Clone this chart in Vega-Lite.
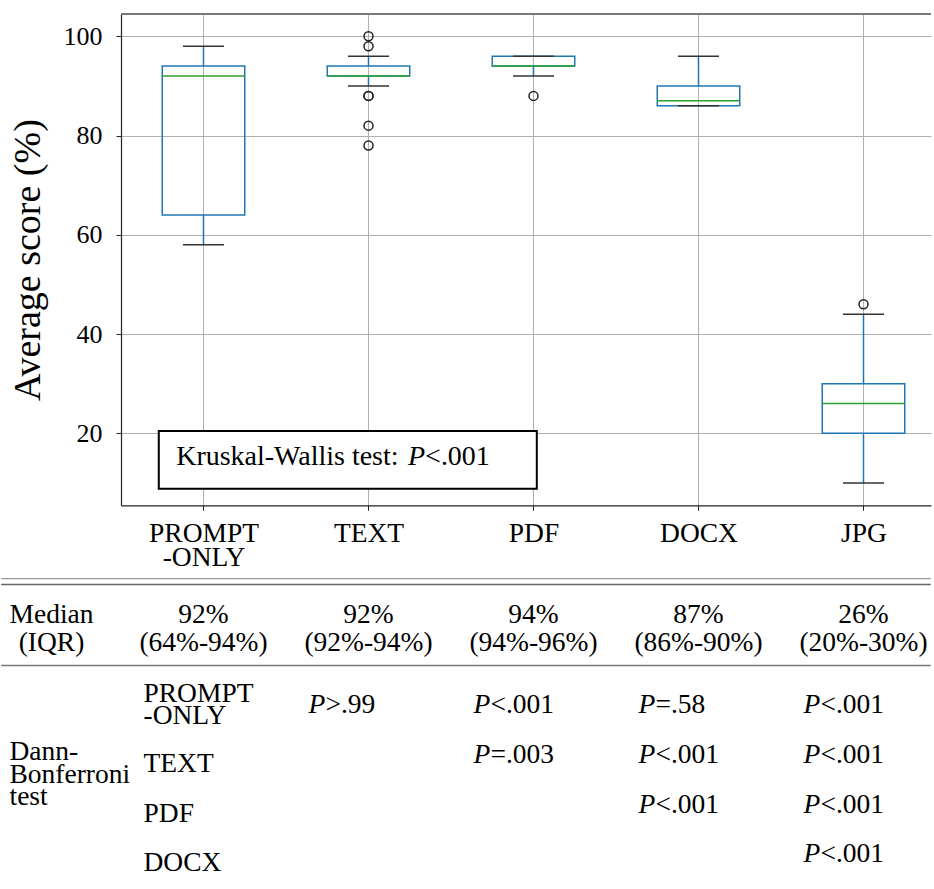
{
  "$schema": "https://vega.github.io/schema/vega-lite/v6.json",
  "width": 810,
  "height": 491.3,
  "padding": {"left": 0, "top": 13, "right": 0, "bottom": 0},
  "config": {
    "font": "Liberation Serif",
    "view": {"stroke": null},
    "axis": {
      "labelColor": "black",
      "titleColor": "black",
      "labelFont": "Liberation Serif",
      "titleFont": "Liberation Serif",
      "titleFontWeight": "normal",
      "gridColor": "#b0b0b0",
      "gridWidth": 1,
      "gridOpacity": 1,
      "domainColor": "#222222",
      "tickColor": "#222222",
      "tickSize": 5,
      "domainWidth": 1.2,
      "labelFlush": false,
      "labelOverlap": false
    }
  },
  "datasets": {
    "boxes": [
      {"pos": 1, "name": "PROMPT-ONLY", "lo": 58, "q1": 64, "med": 92, "q3": 94, "hi": 98},
      {"pos": 2, "name": "TEXT", "lo": 90, "q1": 92, "med": 92, "q3": 94, "hi": 96},
      {"pos": 3, "name": "PDF", "lo": 92, "q1": 94, "med": 94, "q3": 96, "hi": 96},
      {"pos": 4, "name": "DOCX", "lo": 86, "q1": 86, "med": 87, "q3": 90, "hi": 96},
      {"pos": 5, "name": "JPG", "lo": 10, "q1": 20, "med": 26, "q3": 30, "hi": 44}
    ],
    "outliers": [
      {"pos": 2, "v": 100}, {"pos": 2, "v": 98}, {"pos": 2, "v": 88}, {"pos": 2, "v": 88},
      {"pos": 2, "v": 82}, {"pos": 2, "v": 78}, {"pos": 3, "v": 88}, {"pos": 5, "v": 46}
    ],
    "header": [
      {"pos": 1, "row": 0, "text": "92%\n(64%-94%)"},
      {"pos": 2, "row": 0, "text": "92%\n(92%-94%)"},
      {"pos": 3, "row": 0, "text": "94%\n(94%-96%)"},
      {"pos": 4, "row": 0, "text": "87%\n(86%-90%)"},
      {"pos": 5, "row": 0, "text": "26%\n(20%-30%)"}
    ],
    "rowhead": [{"pos": 0, "row": 0, "text": "Median\n(IQR)"}],
    "testname": [{"pos": 0, "row": 2, "text": "Dann-\nBonferroni\ntest"}],
    "rowlabels": [
      {"pos": 1, "row": 1, "text": "PROMPT\n-ONLY"},
      {"pos": 1, "row": 2, "text": "TEXT"},
      {"pos": 1, "row": 3, "text": "PDF"},
      {"pos": 1, "row": 4, "text": "DOCX"}
    ],
    "pvalues": [
      {"pos": 2, "row": 1, "rest": ">.99"},
      {"pos": 3, "row": 1, "rest": "<.001"},
      {"pos": 4, "row": 1, "rest": "=.58"},
      {"pos": 5, "row": 1, "rest": "<.001"},
      {"pos": 3, "row": 2, "rest": "=.003"},
      {"pos": 4, "row": 2, "rest": "<.001"},
      {"pos": 5, "row": 2, "rest": "<.001"},
      {"pos": 4, "row": 3, "rest": "<.001"},
      {"pos": 5, "row": 3, "rest": "<.001"},
      {"pos": 5, "row": 4, "rest": "<.001"}
    ]
  },
  "resolve": {"scale": {"y": "independent"}},
  "layer": [
    {
      "layer": [
        {
          "data": {"name": "boxes"},
          "mark": {"type": "rule", "color": "#1f77b4", "strokeWidth": 1.5},
          "encoding": {
            "x": {
              "field": "pos", "type": "quantitative", "title": null,
              "scale": {"domain": [0.5, 5.4091], "nice": false, "zero": false, "padding": 0},
              "axis": {
                "values": [1, 2, 3, 4, 5],
                "labelExpr": "datum.value == 1 ? ['PROMPT', '-ONLY'] : datum.value == 2 ? 'TEXT' : datum.value == 3 ? 'PDF' : datum.value == 4 ? 'DOCX' : 'JPG'",
                "labelFontSize": 27.5,
                "labelPadding": 9,
                "labelLineHeight": 24,
                "labelBaseline": "top",
                "labelAngle": 0,
                "grid": true
              }
            },
            "y": {
              "field": "lo", "type": "quantitative", "title": "Average score (%)",
              "scale": {"domain": [5.5, 104.5], "nice": false, "zero": false, "padding": 0},
              "axis": {
                "values": [20, 40, 60, 80, 100],
                "labelFontSize": 26,
                "labelPadding": 14,
                "titleFontSize": 38,
                "titlePadding": 16,
                "grid": true
              }
            },
            "y2": {"field": "q1"}
          }
        },
        {
          "data": {"name": "boxes"},
          "mark": {"type": "rule", "color": "#1f77b4", "strokeWidth": 1.5},
          "encoding": {
            "x": {"field": "pos", "type": "quantitative", "title": null},
            "y": {"field": "q3", "type": "quantitative", "title": "Average score (%)"},
            "y2": {"field": "hi"}
          }
        },
        {
          "data": {"name": "boxes"},
          "mark": {"type": "bar", "size": 82.5, "fillOpacity": 0, "stroke": "#1f77b4", "strokeWidth": 1.5},
          "encoding": {
            "x": {"field": "pos", "type": "quantitative", "title": null},
            "y": {"field": "q1", "type": "quantitative", "title": "Average score (%)"},
            "y2": {"field": "q3"}
          }
        },
        {
          "data": {"name": "boxes"},
          "mark": {"type": "tick", "orient": "horizontal", "size": 41, "thickness": 1.5, "color": "#333333", "opacity": 1},
          "encoding": {
            "x": {"field": "pos", "type": "quantitative", "title": null},
            "y": {"field": "lo", "type": "quantitative", "title": "Average score (%)"}
          }
        },
        {
          "data": {"name": "boxes"},
          "mark": {"type": "tick", "orient": "horizontal", "size": 41, "thickness": 1.5, "color": "#333333", "opacity": 1},
          "encoding": {
            "x": {"field": "pos", "type": "quantitative", "title": null},
            "y": {"field": "hi", "type": "quantitative", "title": "Average score (%)"}
          }
        },
        {
          "data": {"name": "boxes"},
          "mark": {"type": "tick", "orient": "horizontal", "size": 82.5, "thickness": 1.5, "color": "#2ca02c", "opacity": 1},
          "encoding": {
            "x": {"field": "pos", "type": "quantitative", "title": null},
            "y": {"field": "med", "type": "quantitative", "title": "Average score (%)"}
          }
        },
        {
          "data": {"name": "outliers"},
          "mark": {"type": "point", "shape": "circle", "size": 81, "filled": false, "color": "#222222", "strokeWidth": 1.5, "opacity": 1},
          "encoding": {
            "x": {"field": "pos", "type": "quantitative", "title": null},
            "y": {"field": "v", "type": "quantitative", "title": "Average score (%)"}
          }
        },
        {
          "data": {"values": [{}]},
          "mark": {"type": "rule", "color": "#777777", "strokeWidth": 2},
          "encoding": {
            "x": {"datum": 0.5, "type": "quantitative", "title": null},
            "x2": {"datum": 5.4091},
            "y": {"datum": 104.5, "type": "quantitative", "title": "Average score (%)"}
          }
        },
        {
          "data": {"values": [{}]},
          "mark": {"type": "rect", "fill": "white", "stroke": "black", "strokeWidth": 2},
          "encoding": {
            "x": {"datum": 0.729, "type": "quantitative", "title": null},
            "x2": {"datum": 3.02},
            "y": {"datum": 20.46, "type": "quantitative", "title": "Average score (%)"},
            "y2": {"datum": 8.83}
          }
        },
        {
          "data": {"values": [{}]},
          "mark": {"type": "text", "text": "Kruskal-Wallis test:", "align": "left", "baseline": "alphabetic", "fontSize": 28, "color": "black"},
          "encoding": {
            "x": {"datum": 0.8345, "type": "quantitative", "title": null},
            "y": {"datum": 13.7, "type": "quantitative", "title": "Average score (%)"}
          }
        },
        {
          "data": {"values": [{}]},
          "mark": {"type": "text", "text": "P", "fontStyle": "italic", "align": "left", "baseline": "alphabetic", "fontSize": 28, "color": "black"},
          "encoding": {
            "x": {"datum": 2.2394, "type": "quantitative", "title": null},
            "y": {"datum": 13.7, "type": "quantitative", "title": "Average score (%)"}
          }
        },
        {
          "data": {"values": [{}]},
          "mark": {"type": "text", "text": "<.001", "align": "left", "baseline": "alphabetic", "fontSize": 28, "color": "black"},
          "encoding": {
            "x": {"datum": 2.343, "type": "quantitative", "title": null},
            "y": {"datum": 13.7, "type": "quantitative", "title": "Average score (%)"}
          }
        }
      ]
    },
    {
      "layer": [
        {
          "data": {"values": [{}]},
          "mark": {"type": "rule", "color": "#999999", "strokeWidth": 1.2},
          "encoding": {
            "x": {"datum": -0.2258, "type": "quantitative", "title": null},
            "x2": {"datum": 5.408},
            "y": {"datum": -1.718, "type": "quantitative", "axis": null, "scale": {"domain": [-13.101, -3.196], "reverse": true, "nice": false, "zero": false, "padding": 0}}
          }
        },
        {
          "data": {"values": [{}]},
          "mark": {"type": "rule", "color": "#666666", "strokeWidth": 1.5},
          "encoding": {
            "x": {"datum": -0.2258, "type": "quantitative", "title": null},
            "x2": {"datum": 5.408},
            "y": {"datum": -1.597, "type": "quantitative", "axis": null}
          }
        },
        {
          "data": {"values": [{}]},
          "mark": {"type": "rule", "color": "#777777", "strokeWidth": 1.5},
          "encoding": {
            "x": {"datum": -0.2258, "type": "quantitative", "title": null},
            "x2": {"datum": 5.408},
            "y": {"datum": 0.036, "type": "quantitative", "axis": null}
          }
        },
        {
          "data": {"name": "header"},
          "mark": {"type": "text", "align": "center", "baseline": "alphabetic", "dy": -41, "lineBreak": "\n", "lineHeight": 28, "fontSize": 27.5, "color": "black"},
          "encoding": {
            "x": {"field": "pos", "type": "quantitative", "title": null},
            "y": {"field": "row", "type": "quantitative", "axis": null},
            "text": {"field": "text", "type": "nominal"}
          }
        },
        {
          "data": {"name": "rowhead"},
          "mark": {"type": "text", "align": "center", "baseline": "alphabetic", "dx": 13, "dy": -41, "lineBreak": "\n", "lineHeight": 28, "fontSize": 27.5, "color": "black"},
          "encoding": {
            "x": {"field": "pos", "type": "quantitative", "title": null},
            "y": {"field": "row", "type": "quantitative", "axis": null},
            "text": {"field": "text", "type": "nominal"}
          }
        },
        {
          "data": {"name": "testname"},
          "mark": {"type": "text", "align": "left", "baseline": "alphabetic", "dx": -29, "dy": -3, "lineBreak": "\n", "lineHeight": 22.5, "fontSize": 27.5, "color": "black"},
          "encoding": {
            "x": {"field": "pos", "type": "quantitative", "title": null},
            "y": {"field": "row", "type": "quantitative", "axis": null},
            "text": {"field": "text", "type": "nominal"}
          }
        },
        {
          "data": {"name": "rowlabels"},
          "transform": [{"filter": "datum.row == 1"}],
          "mark": {"type": "text", "align": "left", "baseline": "alphabetic", "dx": -60, "dy": -11, "lineBreak": "\n", "lineHeight": 22, "fontSize": 27.5, "color": "black"},
          "encoding": {
            "x": {"field": "pos", "type": "quantitative", "title": null},
            "y": {"field": "row", "type": "quantitative", "axis": null},
            "text": {"field": "text", "type": "nominal"}
          }
        },
        {
          "data": {"name": "rowlabels"},
          "transform": [{"filter": "datum.row > 1"}],
          "mark": {"type": "text", "align": "left", "baseline": "alphabetic", "dx": -60, "dy": 9, "fontSize": 27.5, "color": "black"},
          "encoding": {
            "x": {"field": "pos", "type": "quantitative", "title": null},
            "y": {"field": "row", "type": "quantitative", "axis": null},
            "text": {"field": "text", "type": "nominal"}
          }
        },
        {
          "data": {"name": "pvalues"},
          "mark": {"type": "text", "text": "P", "fontStyle": "italic", "align": "left", "baseline": "alphabetic", "dx": -60, "fontSize": 27.5, "color": "black"},
          "encoding": {
            "x": {"field": "pos", "type": "quantitative", "title": null},
            "y": {"field": "row", "type": "quantitative", "axis": null}
          }
        },
        {
          "data": {"name": "pvalues"},
          "mark": {"type": "text", "align": "left", "baseline": "alphabetic", "dx": -43, "fontSize": 27.5, "color": "black"},
          "encoding": {
            "x": {"field": "pos", "type": "quantitative", "title": null},
            "y": {"field": "row", "type": "quantitative", "axis": null},
            "text": {"field": "rest", "type": "nominal"}
          }
        }
      ]
    }
  ]
}
